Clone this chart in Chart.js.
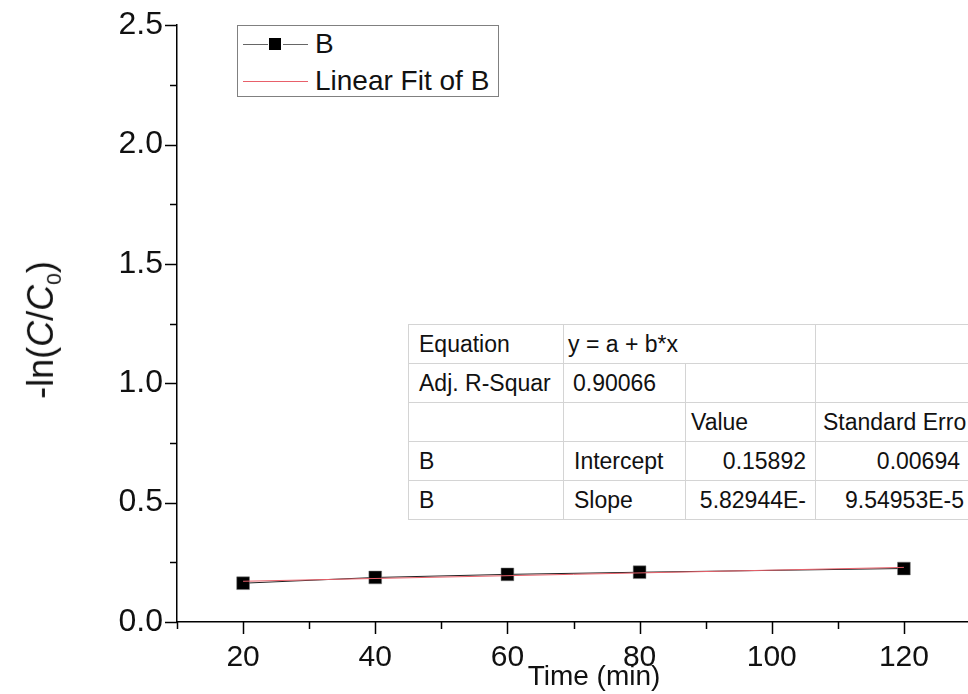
<!DOCTYPE html>
<html>
<head>
<title>-ln(C/C0) vs Time</title>
<script src="https://cdn.jsdelivr.net/npm/chart.js"></script>
<style>
  html, body { margin: 0; padding: 0; background: #fff; overflow: hidden; }
  body { width: 968px; height: 694px; position: relative; font-family: "Liberation Sans", Arial, sans-serif; }
  #wrap { position: absolute; left: 0; top: 0; width: 980px; height: 694px; }
  .ytitle { position: absolute; left: 43px; top: 330px; transform: translate(-50%, -50%) rotate(-90deg);
            font-size: 36px; white-space: nowrap; color: #111; }
  .xtitle { position: absolute; left: 594px; top: 676px; transform: translate(-50%, -50%);
            font-size: 28px; white-space: nowrap; color: #111; }
  .legend { position: absolute; left: 237px; top: 25px; width: 260px; height: 70px;
            border: 1px solid #808080; background: #fff; font-size: 28px; color: #111; }
  .legend .row { position: absolute; left: 0; height: 32px; line-height: 32px; }
  .legend .seg { position: absolute; height: 1px; }
  .legend .sq { position: absolute; width: 12px; height: 12px; background: #000; }
  .legend .lab { position: absolute; left: 77px; white-space: nowrap; }
  table.fit { position: absolute; left: 408px; top: 324px; width: 572px; border-collapse: collapse; table-layout: fixed;
              font-size: 23px; color: #111; background: #fff; border: 1.5px solid #8a8a8a; }
  table.fit td { border: 1px solid #d4d4d4; height: 38px; padding: 0 0 0 10px; white-space: nowrap; overflow: hidden; }
  table.fit td.r { text-align: right; padding: 0 9px 0 0; }
</style>
</head>
<body>
<div id="wrap"><canvas id="c" width="980" height="694"></canvas></div>

<div class="ytitle">-ln(<i>C</i>/<i>C</i><sub style="font-size:21px">0</sub>)</div>
<div class="xtitle">Time (min)</div>

<div class="legend">
  <div class="row" style="top:2px;width:260px">
    <div class="seg" style="left:5px;top:16px;width:25px;background:#666"></div>
    <div class="sq" style="left:31px;top:10px"></div>
    <div class="seg" style="left:45px;top:16px;width:25px;background:#666"></div>
    <div class="lab">B</div>
  </div>
  <div class="row" style="top:39px;width:260px">
    <div class="seg" style="left:5px;top:16px;width:65px;background:#e8606a"></div>
    <div class="lab">Linear Fit of B</div>
  </div>
</div>

<table class="fit">
  <colgroup><col style="width:155px"><col style="width:122px"><col style="width:130px"><col style="width:165px"></colgroup>
  <tr><td>Equation</td><td colspan="2" style="padding-left:4px">y = a + b*x</td><td></td></tr>
  <tr><td>Adj. R-Squar</td><td style="padding-left:9px">0.90066</td><td></td><td></td></tr>
  <tr><td></td><td></td><td style="padding-left:5px">Value</td><td style="padding-left:7px">Standard Erro</td></tr>
  <tr><td>B</td><td>Intercept</td><td class="r">0.15892</td><td class="r" style="padding-right:20px">0.00694</td></tr>
  <tr><td>B</td><td>Slope</td><td class="r">5.82944E-</td><td class="r" style="padding-right:16px">9.54953E-5</td></tr>
</table>

<script>
// measured data (time in min, -ln(C/C0))
const timeMin = [20, 40, 60, 80, 120];
const lnRatio = [0.1625, 0.1865, 0.1995, 0.2085, 0.224];

// linear fit reported in the table
const fitIntercept = 0.15892;
const fitSlope = 5.82944e-4;
const fitRange = [20, 120];

const xMajorTicks = [20, 40, 60, 80, 100, 120];
const xMinorTicks = [10, 30, 50, 70, 90, 110, 130];
const yMajorTicks = [0, 0.5, 1.0, 1.5, 2.0, 2.5];
const yMinorTicks = [0.25, 0.75, 1.25, 1.75, 2.25];

const pts = timeMin.map((t, i) => ({x: t, y: lnRatio[i]}));
const fitPts = fitRange.map(t => ({x: t, y: fitIntercept + fitSlope * t}));

// Origin style outward ticks
const tickMarks = {
  id: 'tickMarks',
  afterDraw(chart) {
    const {ctx, scales: {x, y}} = chart;
    ctx.save();
    ctx.strokeStyle = '#000';
    ctx.lineWidth = 1.5;
    const xb = y.bottom, yl = x.left;
    function vline(v, len) {
      const p = Math.round(x.getPixelForValue(v)) + 0.5;
      ctx.beginPath(); ctx.moveTo(p, xb); ctx.lineTo(p, xb + len); ctx.stroke();
    }
    function hline(v, len) {
      const p = Math.round(y.getPixelForValue(v)) + 0.5;
      ctx.beginPath(); ctx.moveTo(yl, p); ctx.lineTo(yl - len, p); ctx.stroke();
    }
    xMajorTicks.forEach(v => vline(v, 12));
    xMinorTicks.forEach(v => vline(v, 7));
    yMajorTicks.forEach(v => hline(v, 12));
    yMinorTicks.forEach(v => hline(v, 7));
    ctx.restore();
  }
};

new Chart(document.getElementById('c'), {
  type: 'scatter',
  data: {
    datasets: [
      {
        label: 'B',
        data: pts,
        showLine: true,
        borderColor: '#222',
        borderWidth: 1,
        backgroundColor: '#000',
        pointStyle: 'rect',
        pointRadius: 9,
        pointBorderColor: '#777',
        pointBorderWidth: 0.5,
        order: 2
      },
      {
        label: 'Linear Fit of B',
        data: fitPts,
        showLine: true,
        borderColor: '#e8606a',
        borderWidth: 1,
        pointRadius: 0,
        order: 1
      }
    ]
  },
  options: {
    responsive: false,
    animation: false,
    layout: { padding: { top: 23, right: 7, left: 0, bottom: 0 } },
    plugins: { legend: { display: false }, tooltip: { enabled: false } },
    scales: {
      x: {
        type: 'linear',
        min: 10, max: 130,
        grid: { display: false },
        border: { display: true, color: '#000', width: 1.5 },
        ticks: {
          stepSize: 10,
          padding: 10,
          color: '#111',
          font: { family: 'Liberation Sans, Arial', size: 30 },
          callback: v => xMajorTicks.includes(v) ? String(v) : ''
        },
        afterFit: s => { s.height = 72; }
      },
      y: {
        min: 0, max: 2.5,
        grid: { display: false },
        border: { display: true, color: '#000', width: 1.5 },
        ticks: {
          stepSize: 0.5,
          padding: 6,
          color: '#111',
          font: { family: 'Liberation Sans, Arial', size: 32 },
          callback: v => v.toFixed(1)
        },
        afterFit: s => { s.width = 177; }
      }
    }
  },
  plugins: [tickMarks]
});
</script>
</body>
</html>
